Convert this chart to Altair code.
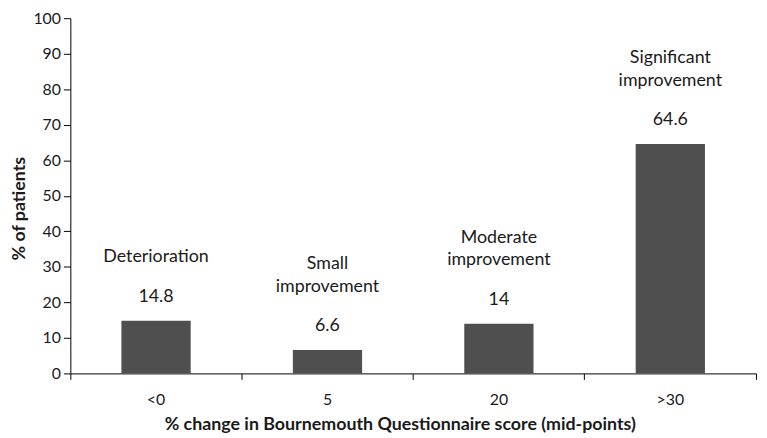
import altair as alt
import pandas as pd

categories = ["<0", "5", "20", ">30"]
values = [14.8, 6.6, 14, 64.6]
value_text = ["14.8", "6.6", "14", "64.6"]
label_line1 = ["", "Small", "Moderate", "Significant"]
label_line2 = ["Deterioration", "improvement", "improvement", "improvement"]
y_ticks = [0, 10, 20, 30, 40, 50, 60, 70, 80, 90, 100]

df = pd.DataFrame({"cat": categories, "val": values, "vtxt": value_text,
                   "l1": label_line1, "l2": label_line2})

FONT = "Lato"
FS = 18
TXT = "#1a1a1a"
TOP = 8
H = 375 - 8 - TOP

x = alt.X("cat:N", sort=categories,
          scale=alt.Scale(paddingInner=0, paddingOuter=0),
          axis=alt.Axis(title="% change in Bournemouth Questionnaire score (mid-points)",
                        labelAngle=0, bandPosition=1, tickExtra=True,
                        domainColor="black", tickColor="black", tickSize=6,
                        labelPadding=12, titlePadding=9, titleX=333,
                        labelFontSize=16, titleFontSize=18, labelFont=FONT, titleFont=FONT,
                        titleFontWeight="bold", labelColor=TXT, titleColor=TXT))

y = alt.Y("val:Q", scale=alt.Scale(domain=[0, 100]),
          axis=alt.Axis(title="% of patients", values=y_ticks, grid=False,
                        labelOverlap=False, tickCount=len(y_ticks),
                        domainColor="black", tickColor="black", tickSize=7,
                        labelFontSize=16, titleFontSize=18, labelFont=FONT, titleFont=FONT,
                        titleFontWeight="bold", labelColor=TXT, titleColor=TXT,
                        labelPadding=3, titlePadding=4, titleY=208 - 8 - TOP))

base = alt.Chart(df).encode(x=x, y=y)

bars = base.mark_bar(color="#4f4f4f", width=alt.RelativeBandSize(0.404))

vtext = base.mark_text(font=FONT, fontSize=FS, color=TXT, baseline="middle", dy=-24).encode(
    text="vtxt:N")

l1text = base.mark_text(font=FONT, fontSize=FS, color=TXT, baseline="middle", dy=-87).encode(
    text="l1:N")

l2text = base.mark_text(font=FONT, fontSize=FS, color=TXT, baseline="middle", dy=-64).encode(
    text="l2:N")

chart = alt.layer(bars, vtext, l1text, l2text).properties(
    width=693, height=H,
    autosize=alt.AutoSizeParams(type="none"),
    padding={"left": 63, "top": TOP, "right": 3, "bottom": 63},
).configure_view(stroke=None)

chart.save("out.html", embed_options={"renderer": "svg", "actions": False})
